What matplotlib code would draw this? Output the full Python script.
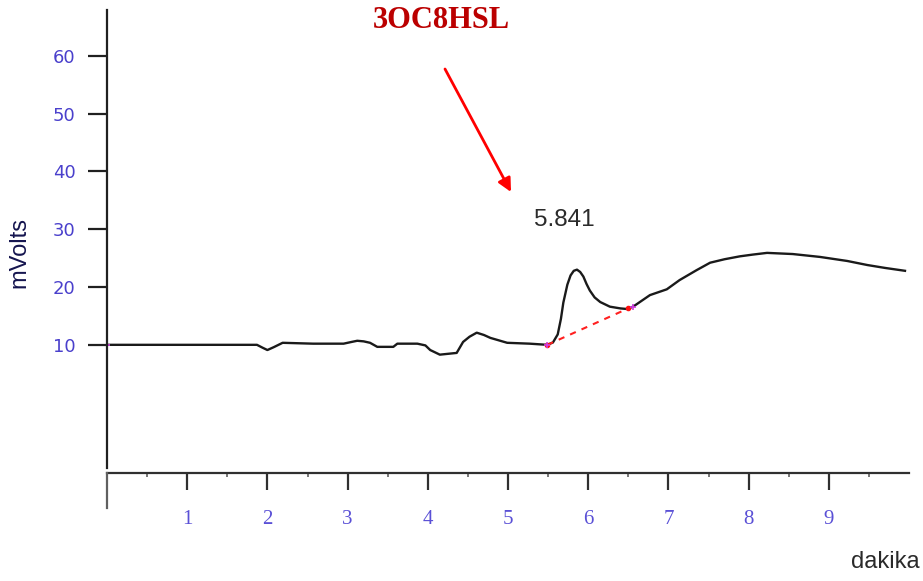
import matplotlib
matplotlib.use('Agg')
from matplotlib import pyplot as plt
from matplotlib.lines import Line2D

# detector trace (minutes, mV)
time_min = [0.0, 1.87, 1.94, 2.0, 2.08, 2.19, 2.57, 2.95, 3.05, 3.12, 3.2, 3.28,
            3.37, 3.57, 3.62, 3.87, 3.97, 4.03, 4.15, 4.36, 4.44, 4.52, 4.61,
            4.7, 4.78, 4.99, 5.27, 5.49, 5.56, 5.62, 5.66, 5.69, 5.74, 5.78,
            5.82, 5.86, 5.90, 5.94, 5.98, 6.02, 6.08, 6.15, 6.27, 6.4, 6.48,
            6.56, 6.77, 6.98, 7.14, 7.35, 7.52, 7.7, 7.89, 8.05, 8.23, 8.55,
            8.89, 9.23, 9.48, 9.7, 9.95]
signal_mv = [10.0, 10.0, 9.5, 9.1, 9.6, 10.35, 10.2, 10.2, 10.5, 10.7, 10.6, 10.35,
             9.65, 9.65, 10.2, 10.2, 9.9, 9.1, 8.3, 8.6, 10.5, 11.4, 12.1,
             11.7, 11.2, 10.35, 10.2, 10.0, 10.4, 11.8, 14.5, 17.3, 20.4, 22.0,
             22.8, 23.0, 22.6, 21.8, 20.5, 19.4, 18.2, 17.4, 16.6, 16.3, 16.2,
             16.6, 18.6, 19.6, 21.2, 22.9, 24.2, 24.8, 25.3, 25.6, 25.9, 25.7,
             25.2, 24.5, 23.8, 23.3, 22.8]

# integration baseline under the peak
base_time = [5.49, 6.50]
base_mv = [10.0, 16.3]

peak_rt = "5.841"
peak_label_pos = (5.70, 31.5)
compound = "3OC8HSL"

x_ticks = [1, 2, 3, 4, 5, 6, 7, 8, 9]
y_ticks = [10, 20, 30, 40, 50, 60]

fig = plt.figure(figsize=(9.23, 5.81), dpi=100)
ax = fig.add_axes([107 / 923, 1 - 468 / 581, 802 / 923, 458 / 581])

ax.plot(time_min, signal_mv, color='#1a1a1a', lw=1.7, solid_joinstyle='round')
ax.plot(base_time, base_mv, color='#ff2020', lw=1.5, ls=(0, (3, 3)))
ax.plot(base_time, base_mv, 'o', color='#ff1010', ms=3)
ax.plot([0.0, base_time[0], 6.56], [10.0, 10.0, 16.6], '+', color='#d040e0', ms=5, mew=1.2)

ax.set_xlim(0, 10)
ax.set_ylim(-11.3, 67.9)

for side in ['top', 'right']:
    ax.spines[side].set_visible(False)
ax.spines['left'].set_color('#202020')
ax.spines['left'].set_linewidth(1.6)
ax.spines['bottom'].set_color('#303030')
ax.spines['bottom'].set_linewidth(1.6)
ax.spines['bottom'].set_position(('outward', 3.6))

ax.set_xticks(x_ticks)
ax.set_xticks([0.5 + i for i in range(10)], minor=True)
ax.set_yticks(y_ticks)
ax.tick_params(axis='x', which='major', direction='out', length=12, width=1.6,
               color='#303030', pad=15, labelsize=15, labelcolor='#5a50d6')
ax.tick_params(axis='x', which='minor', direction='out', length=3, width=1.2,
               color='#606060')
ax.tick_params(axis='y', direction='out', length=13.5, width=1.6,
               color='#202020', pad=9, labelsize=13, labelcolor='#4a40cc')
for lab in ax.get_xticklabels():
    lab.set_family('Liberation Serif')

# short vertical stub at the left end of the time axis
fig.add_artist(Line2D([107 / 923, 107 / 923], [1 - 473 / 581, 1 - 508 / 581],
                      color='#606060', lw=1.6))

fig.text(19 / 923, 1 - 252 / 581, 'mVolts', rotation=90, ha='center', va='center',
         fontsize=17, color='#15154f', family='Liberation Sans')
fig.text(920 / 923, 1 - 562 / 581, 'dakika', ha='right', va='center',
         fontsize=17, color='#2a2a2a', family='Liberation Sans')

ax.text(peak_label_pos[0], peak_label_pos[1], peak_rt, ha='center', va='center',
        fontsize=17.5, color='#2b2b2b', family='Liberation Sans')

fig.text(441 / 923, 1 - 20 / 581, compound, ha='center', va='center',
         fontsize=22, fontweight='bold', color='#bb0000', family='Liberation Serif')
ax.annotate('', xy=(511 / 923, 1 - 192 / 581), xycoords='figure fraction',
            xytext=(445 / 923, 1 - 69 / 581), textcoords='figure fraction',
            arrowprops=dict(arrowstyle='-|>', color='#ff0000', lw=2,
                            mutation_scale=20, shrinkA=0, shrinkB=0))

fig.savefig('out.png', dpi=100)
plt.close(fig)
